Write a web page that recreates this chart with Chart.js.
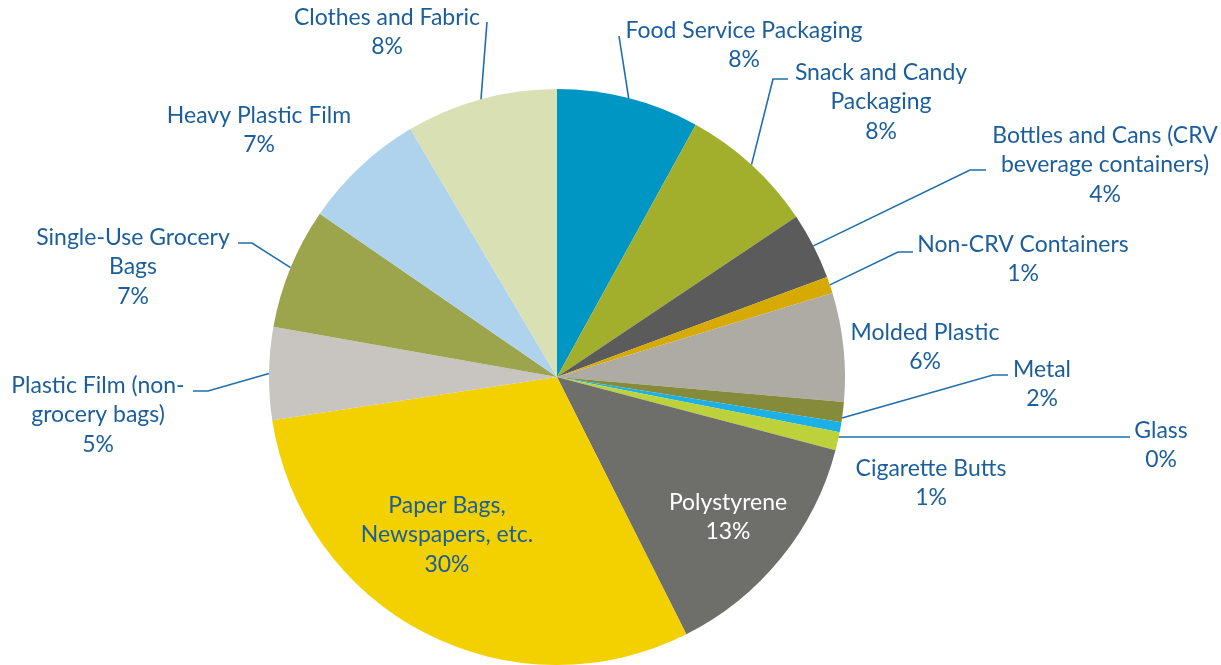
<!DOCTYPE html>
<html><head><meta charset="utf-8">
<script src="https://cdn.jsdelivr.net/npm/chart.js@4.4.0/dist/chart.umd.min.js"></script>
<style>html,body{margin:0;padding:0;background:#fff;overflow:hidden}#wrap{width:1221px;height:665px;position:relative}</style>
</head><body><div id="wrap"><canvas id="c" width="1221" height="665"></canvas></div>
<script>
// ---- data ----
const categories = ["Food Service Packaging","Snack and Candy Packaging","Bottles and Cans (CRV beverage containers)","Non-CRV Containers","Molded Plastic","Metal","Glass","Cigarette Butts","Polystyrene","Paper Bags, Newspapers, etc.","Plastic Film (non-grocery bags)","Single-Use Grocery Bags","Heavy Plastic Film","Clothes and Fabric"];
const shares = [8.0,7.6,3.75,0.93,6.1,1.12,0.56,1.02,13.5,30.0,5.2,6.8,6.9,8.5];
const pctLabels = ["8%","8%","4%","1%","6%","2%","0%","1%","13%","30%","5%","7%","7%","8%"];
const labelLines = [["Food Service Packaging"],["Snack and Candy","Packaging"],["Bottles and Cans (CRV","beverage containers)"],["Non-CRV Containers"],["Molded Plastic"],["Metal"],["Glass"],["Cigarette Butts"],["Polystyrene"],["Paper Bags,","Newspapers, etc."],["Plastic Film (non-","grocery bags)"],["Single-Use Grocery","Bags"],["Heavy Plastic Film"],["Clothes and Fabric"]];

// ---- styles / layout ----
const colors = ["#0096C4","#A1AF2D","#5B5B5B","#D6AA00","#AEAAA4","#858B3B","#1BB1E7","#BDD13B","#6E6F6B","#F3D000","#C8C5C0","#9CA44C","#AFD3EC","#D9E0B4"];
const textColor = "#1B5E9B";
const lineColor = "#1F6FAB";
// label center x, first baseline y, leader waypoints (after arc edge point), anchor shift in degrees
const labelLayout = [
  {x:744, y:38, pts:[[619,36]]},
  {x:881, y:80, pts:[[773,79],[788,79]]},
  {x:1105, y:143, pts:[[970,170],[986,170]]},
  {x:1023, y:252, pts:[[898,252],[913,252]]},
  {x:925, y:340, pts:null},
  {x:1042, y:377, pts:[[993,375],[1008,375]], shift:1.2},
  {x:1161, y:438, pts:[[1130,437]], shift:2.0},
  {x:931, y:476, pts:null},
  {x:728, y:510, pts:null, color:"#FFFFFF"},
  {x:447, y:513, pts:null},
  {x:98, y:393, pts:[[208,391],[193,391]]},
  {x:133, y:245, pts:[[252,243],[238,243]]},
  {x:259, y:123, pts:null},
  {x:387, y:25, pts:[[487,22]]}
];
const lineGap = 29.4;

const labelPlugin = {
  id:'labels',
  afterDatasetsDraw(chart){
    const ctx = chart.ctx;
    const meta = chart.getDatasetMeta(0);
    ctx.save();
    ctx.font = "20px Lato";
    const w20 = ctx.measureText("Food Service Packaging").width;
    const fs = 20 * 237 / w20;
    ctx.font = fs.toFixed(2) + "px Lato";
    ctx.textAlign = "center";
    ctx.textBaseline = "alphabetic";
    meta.data.forEach((arc,i)=>{
      const p = arc.getProps(['x','y','startAngle','endAngle','outerRadius'], true);
      const L = labelLayout[i];
      const mid = (p.startAngle + p.endAngle)/2 + (L.shift||0)*Math.PI/180;
      if (L.pts){
        ctx.beginPath();
        ctx.strokeStyle = lineColor;
        ctx.lineWidth = 1.6;
        ctx.moveTo(p.x + Math.cos(mid)*p.outerRadius, p.y + Math.sin(mid)*p.outerRadius);
        L.pts.forEach(q=>ctx.lineTo(q[0],q[1]));
        ctx.stroke();
      }
      const lines = labelLines[i].concat([pctLabels[i]]);
      ctx.fillStyle = L.color || textColor;
      lines.forEach((t,k)=>ctx.fillText(t, L.x, L.y + k*lineGap));
    });
    ctx.restore();
  }
};

new Chart(document.getElementById('c'), {
  type:'pie',
  data:{labels:categories, datasets:[{data:shares, backgroundColor:colors, borderWidth:0, hoverOffset:0}]},
  options:{
    responsive:false, devicePixelRatio:1, animation:false,
    layout:{padding:{top:89,bottom:0,left:0,right:107}},
    plugins:{legend:{display:false}, tooltip:{enabled:false}}
  },
  plugins:[labelPlugin]
});
</script></body></html>
